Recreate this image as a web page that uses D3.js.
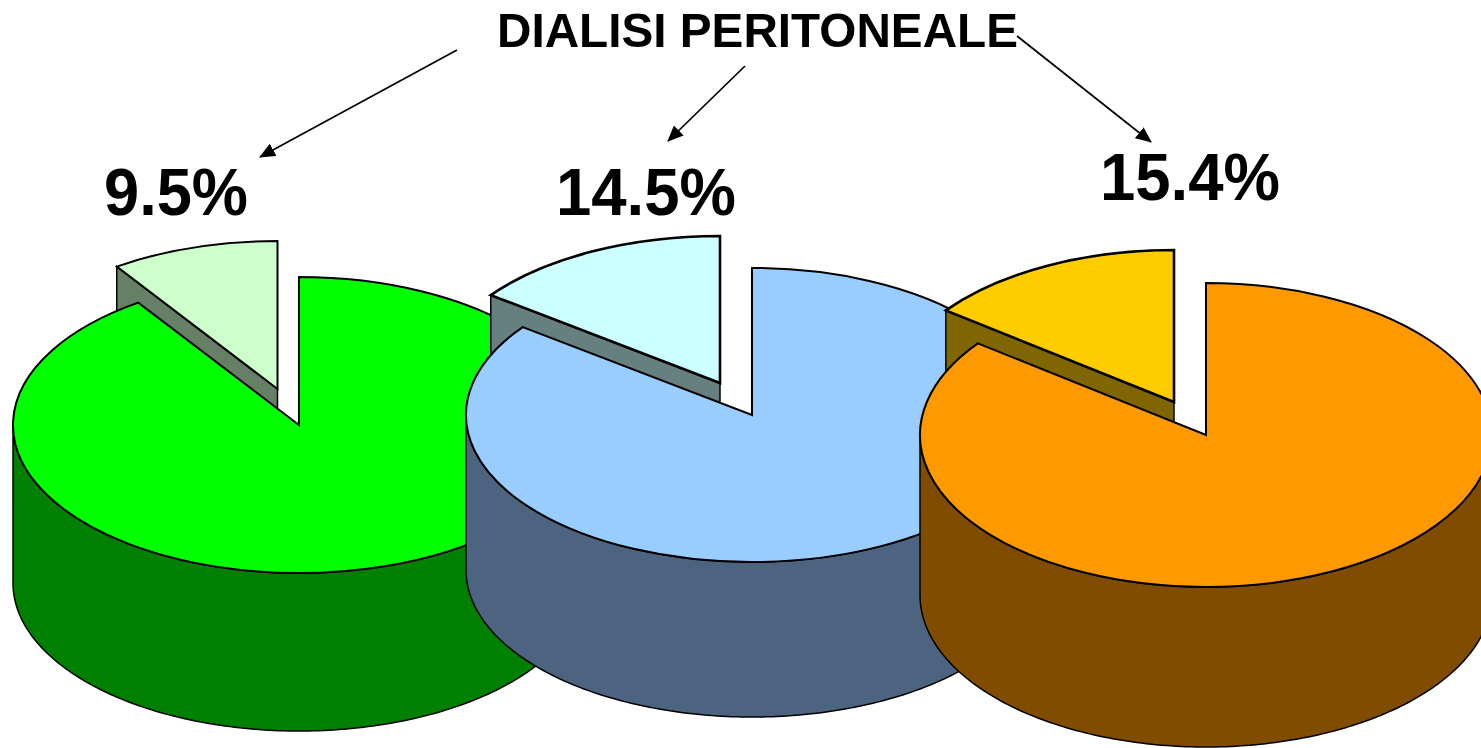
<!DOCTYPE html>
<html>
<head>
<meta charset="utf-8">
<script src="https://cdnjs.cloudflare.com/ajax/libs/d3/7.8.5/d3.min.js"></script>
<style>
html,body{margin:0;padding:0;background:#fff;overflow:hidden}
svg{display:block}
text{font-family:"Liberation Sans",Arial,sans-serif;font-weight:bold;fill:#000}
</style>
</head>
<body>
<svg id="chart" width="1481" height="748"></svg>
<script>
// Data
const titleText = "DIALISI PERITONEALE";
const pieLabels = ["9.5%", "14.5%", "15.4%"];
const drawnShares = [9.5, 14.8, 14.7];   // share of the exploded wedge as drawn
const topColors = ["#00ff00", "#99ccff", "#ff9900"];
const sideColors = ["#008000", "#4d6480", "#804c00"];
const wedgeColors = ["#ccffcc", "#ccffff", "#ffcc00"];
const wedgeSideColors = ["#668066", "#668080", "#806600"];

// Layout (pixels)
const centers = [[299, 425], [752, 415], [1206, 435]];
const radiiX = [286, 286, 286];
const radiiY = [148, 147, 152];
const depths = [158, 155, 160];
const wedgeOrigins = [[277.5, 389], [720, 383], [1174, 402]];
const labelPos = [[176, 215], [646, 215], [1190, 200]];
const labelWidths = [144, 180, 180];
const arrows = [[[457, 50], [260, 157]], [[745, 66], [668, 141]], [[1017, 36], [1151, 142]]];

const svg = d3.select("#chart");
const defs = svg.append("defs");
defs.append("marker").attr("id", "head").attr("viewBox", "0 0 16 14")
  .attr("refX", 15).attr("refY", 7).attr("markerWidth", 16).attr("markerHeight", 14)
  .attr("markerUnits", "userSpaceOnUse").attr("orient", "auto")
  .append("path").attr("d", "M0,0L16,7L0,14Z").attr("fill", "#000");

const pieGen = d3.pie().sort(null).value(d => d).startAngle(0).endAngle(2 * Math.PI);
const lineGen = d3.line();

// Point on an ellipse, angle measured clockwise from 12 o'clock
function onEllipse(c, rx, ry, a, dy = 0) {
  return [c[0] + rx * Math.sin(a), c[1] - ry * Math.cos(a) + dy];
}

drawnShares.forEach((share, i) => {
  const [mainArc, wedgeArc] = pieGen([100 - share, share]);
  const c = centers[i], w = wedgeOrigins[i];
  const rx = radiiX[i], ry = radiiY[i], depth = depths[i];
  const arcGen = d3.arc().innerRadius(0).outerRadius(rx);
  const g = svg.append("g");

  // Exploded wedge: cut wall, then its top face
  const wedgeCorner = onEllipse(w, rx, ry, wedgeArc.startAngle);
  g.append("path")
    .attr("d", lineGen([w, wedgeCorner, [wedgeCorner[0], wedgeCorner[1] + depth], [w[0], w[1] + depth]]) + "Z")
    .attr("fill", wedgeSideColors[i]).attr("stroke", "#000").attr("stroke-width", 1.5);
  g.append("path")
    .attr("transform", `translate(${w[0]},${w[1]}) scale(1,${ry / rx})`)
    .attr("d", arcGen(wedgeArc))
    .attr("fill", wedgeColors[i]).attr("stroke", "#000").attr("stroke-width", i === 0 ? 2 : 2.6)
    .attr("stroke-linejoin", "miter").attr("vector-effect", "non-scaling-stroke");

  // Main body: front rim, then top face
  const angles = d3.range(0, 181).map(k => Math.PI / 2 + k * Math.PI / 180);
  const rim = angles.map(a => onEllipse(c, rx, ry, a, depth));
  const edge = angles.map(a => onEllipse(c, rx, ry, a)).reverse();
  g.append("path")
    .attr("d", lineGen(rim.concat(edge)) + "Z")
    .attr("fill", sideColors[i]).attr("stroke", "#000").attr("stroke-width", 1.5);
  g.append("path")
    .attr("transform", `translate(${c[0]},${c[1]}) scale(1,${ry / rx})`)
    .attr("d", arcGen(mainArc))
    .attr("fill", topColors[i]).attr("stroke", "#000").attr("stroke-width", 2)
    .attr("stroke-linejoin", "miter").attr("vector-effect", "non-scaling-stroke");
});

svg.selectAll("line.arrow").data(arrows).join("line").attr("class", "arrow")
  .attr("x1", d => d[0][0]).attr("y1", d => d[0][1])
  .attr("x2", d => d[1][0]).attr("y2", d => d[1][1])
  .attr("stroke", "#000").attr("stroke-width", 1.7).attr("marker-end", "url(#head)");

svg.append("text").attr("x", 757.5).attr("y", 47).attr("text-anchor", "middle")
  .attr("font-size", 49).attr("textLength", 521).attr("lengthAdjust", "spacingAndGlyphs")
  .text(titleText);

svg.selectAll("text.pct").data(pieLabels).join("text").attr("class", "pct")
  .attr("x", (d, i) => labelPos[i][0]).attr("y", (d, i) => labelPos[i][1])
  .attr("text-anchor", "middle").attr("font-size", 66)
  .attr("textLength", (d, i) => labelWidths[i]).attr("lengthAdjust", "spacingAndGlyphs")
  .text(d => d);
</script>
</body>
</html>
